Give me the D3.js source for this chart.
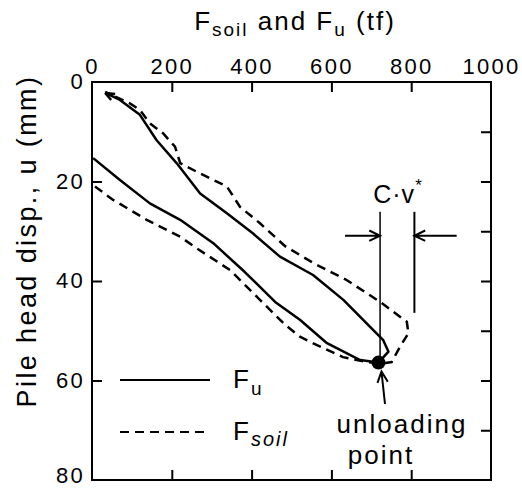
<!DOCTYPE html>
<html>
<head>
<meta charset="utf-8">
<script src="https://cdn.jsdelivr.net/npm/d3@7"></script>
<style>
  body { margin: 0; background: #fff; }
  text { font-family: "Liberation Sans", Arial, sans-serif; fill: #000; }
  .domain { display: none; }
</style>
</head>
<body>
<svg id="chart" width="522" height="490"></svg>
<script>
/*
 * Data (force in tf, pile head displacement in mm)
 *****************************/
const fuForce = [3, 70, 145, 221, 304, 383, 459, 521, 589, 672, 718, 743, 730, 697, 630, 554, 471, 403, 338, 271, 212, 162, 120, 70, 33];
const fuDisp  = [15.3, 19.7, 24.4, 27.7, 32.4, 38.2, 44.2, 47.8, 52.5, 55.9, 56.4, 54.2, 51.9, 49.2, 43.8, 38.8, 35.1, 30.4, 26.4, 22.4, 16.3, 11.7, 6.6, 3.6, 2.2];

const soilForce = [7.5, 53, 137, 221, 262, 346, 421, 484, 521, 564, 629, 689, 724, 751, 772, 793, 789, 722, 638, 555, 484, 421, 371, 338, 271, 221, 208, 178, 145, 120, 95, 33];
const soilDisp  = [21.0, 23.7, 27.7, 31.1, 33.4, 37.8, 43.8, 48.8, 51.2, 52.9, 55.3, 56.3, 56.6, 56.3, 53.2, 50.5, 48.2, 44.2, 39.8, 36.4, 33.0, 28.4, 25.1, 21.0, 18.4, 16.3, 13.0, 10.3, 8.3, 5.6, 4.3, 2.0];

const unloadPoint = [718, 56.4];
const cvForces = [722, 808];       // the two vertical marker lines
const cvBottoms = [56.4, 46.4];
const cvTop = 26.1;
const cvArrowLevel = 30.9;
const cvArrowTails = [634, 914];

const xTickLabels = [0, 200, 400, 600, 800, 1000];
const xInnerTicks = [200, 400, 600, 800];
const yTickLabels = [0, 20, 40, 60, 80];
const yLeftTicks = [20, 40, 60];
const yRightTicks = [10, 20, 30, 40, 50, 60, 70];

/*
 * Scales
 *****************************/
const svg = d3.select("#chart");
const plotLeft = 92, plotRight = 491, plotTop = 82, plotBottom = 480;

const x = d3.scaleLinear().domain([0, 1000]).range([plotLeft, plotRight]);
const y = d3.scaleLinear().domain([0, 80]).range([plotTop, plotBottom]);

// frame
svg.append("rect")
  .attr("x", plotLeft).attr("y", plotTop)
  .attr("width", plotRight - plotLeft).attr("height", plotBottom - plotTop)
  .attr("fill", "none").attr("stroke", "#000").attr("stroke-width", 2);

// tick labels
svg.append("g")
  .attr("transform", `translate(0,${plotTop})`)
  .call(d3.axisTop(x).tickValues(xTickLabels).tickFormat(d3.format("d")).tickSize(0).tickPadding(8))
  .selectAll("text")
  .style("font-size", "22px").style("letter-spacing", "2.3px");

svg.append("g")
  .attr("transform", `translate(${plotLeft},0)`)
  .call(d3.axisLeft(y).tickValues(yTickLabels).tickSize(0).tickPadding(7))
  .selectAll("text")
  .attr("dy", d => d === 80 ? "0.1em" : "0.3em")   // keep the last label inside the picture
  .style("font-size", "22px").style("letter-spacing", "2.3px");

// inward ticks
const tickStyle = g => g.selectAll("line").attr("stroke", "#000").attr("stroke-width", 2);
svg.append("g").attr("transform", `translate(0,${plotTop})`)
  .call(d3.axisTop(x).tickValues(xInnerTicks).tickSize(-10).tickFormat(""))
  .call(tickStyle);
svg.append("g").attr("transform", `translate(0,${plotBottom})`)
  .call(d3.axisBottom(x).tickValues(xInnerTicks).tickSize(-10).tickFormat(""))
  .call(tickStyle);
svg.append("g").attr("transform", `translate(${plotLeft},0)`)
  .call(d3.axisLeft(y).tickValues(yLeftTicks).tickSize(-10).tickFormat(""))
  .call(tickStyle);
svg.append("g").attr("transform", `translate(${plotRight},0)`)
  .call(d3.axisRight(y).tickValues(yRightTicks).tickSize(-10).tickFormat(""))
  .call(tickStyle);

// axis titles
const title = svg.append("text")
  .attr("x", 295).attr("y", 30)
  .attr("text-anchor", "middle")
  .style("font-size", "26px").style("letter-spacing", "2px");
title.append("tspan").text("F");
title.append("tspan").attr("dy", 6).style("font-size", "19px").text("soil");
title.append("tspan").attr("dy", -6).text(" and F");
title.append("tspan").attr("dy", 6).style("font-size", "19px").text("u");
title.append("tspan").attr("dy", -6).text(" (tf)");

svg.append("text")
  .attr("transform", "translate(36,241) rotate(-90)")
  .attr("text-anchor", "middle")
  .style("font-size", "27px").style("letter-spacing", "2.4px")
  .text("Pile head disp., u (mm)");

/*
 * Curves
 *****************************/
const line = d3.line().x(d => x(d[0])).y(d => y(d[1]));
const fuPts = fuForce.map((f, i) => [f, fuDisp[i]]);
const soilPts = soilForce.map((f, i) => [f, soilDisp[i]]);

svg.append("path").attr("d", line(soilPts))
  .attr("fill", "none").attr("stroke", "#000").attr("stroke-width", 2.5)
  .attr("stroke-dasharray", "9,6");

svg.append("path").attr("d", line(fuPts))
  .attr("fill", "none").attr("stroke", "#000").attr("stroke-width", 2.5)
  .attr("stroke-linejoin", "round");

// small arrowhead at the end of the Fu curve
const endP = fuPts[fuPts.length - 1];
svg.append("path")
  .attr("d", `M${x(endP[0])},${y(endP[1])} l10,1 M${x(endP[0])},${y(endP[1])} l6,7`)
  .attr("stroke", "#000").attr("stroke-width", 2.5).attr("fill", "none");

// C·v* markers
cvForces.forEach((f, i) => {
  svg.append("line")
    .attr("x1", x(f)).attr("x2", x(f))
    .attr("y1", y(cvTop)).attr("y2", y(cvBottoms[i]))
    .attr("stroke", "#000").attr("stroke-width", i === 0 ? 1.5 : 2);
});

function openArrow(x1, y1, x2, y2) {
  const a = Math.atan2(y2 - y1, x2 - x1), len = 12, w = 0.45;
  svg.append("path")
    .attr("d", `M${x1},${y1}L${x2},${y2}` +
      `M${x2 - len * Math.cos(a - w)},${y2 - len * Math.sin(a - w)}L${x2},${y2}` +
      `L${x2 - len * Math.cos(a + w)},${y2 - len * Math.sin(a + w)}`)
    .attr("fill", "none").attr("stroke", "#000").attr("stroke-width", 2);
}
openArrow(x(cvArrowTails[0]), y(cvArrowLevel), x(cvForces[0]), y(cvArrowLevel));
openArrow(x(cvArrowTails[1]), y(cvArrowLevel), x(cvForces[1]), y(cvArrowLevel));

const cv = svg.append("text")
  .attr("x", 398).attr("y", 203)
  .attr("text-anchor", "middle")
  .style("font-size", "25px").style("letter-spacing", "1px");
cv.append("tspan").text("C·v");
cv.append("tspan").attr("dy", -12).style("font-size", "17px").text("*");

// unloading point
svg.append("circle")
  .attr("cx", x(unloadPoint[0])).attr("cy", y(unloadPoint[1]))
  .attr("r", 7).attr("fill", "#000");
openArrow(385, 404, x(unloadPoint[0]) + 3, y(unloadPoint[1]) + 9);

svg.append("text").attr("x", 402).attr("y", 433)
  .attr("text-anchor", "middle")
  .style("font-size", "26px").style("letter-spacing", "2px")
  .text("unloading");
svg.append("text").attr("x", 381).attr("y", 464)
  .attr("text-anchor", "middle")
  .style("font-size", "26px").style("letter-spacing", "2px")
  .text("point");

/*
 * Legend
 *****************************/
svg.append("line").attr("x1", 120).attr("x2", 210).attr("y1", 380).attr("y2", 380)
  .attr("stroke", "#000").attr("stroke-width", 2);
svg.append("line").attr("x1", 120).attr("x2", 210).attr("y1", 432).attr("y2", 432)
  .attr("stroke", "#000").attr("stroke-width", 2).attr("stroke-dasharray", "9,6");

const lg1 = svg.append("text").attr("x", 233).attr("y", 388)
  .style("font-size", "26px").style("letter-spacing", "2px");
lg1.append("tspan").text("F");
lg1.append("tspan").attr("dy", 7).style("font-size", "19px").text("u");

const lg2 = svg.append("text").attr("x", 233).attr("y", 440)
  .style("font-size", "26px").style("letter-spacing", "2px");
lg2.append("tspan").text("F");
lg2.append("tspan").attr("dy", 6).style("font-size", "20px").style("font-style", "italic").text("soil");
</script>
</body>
</html>
